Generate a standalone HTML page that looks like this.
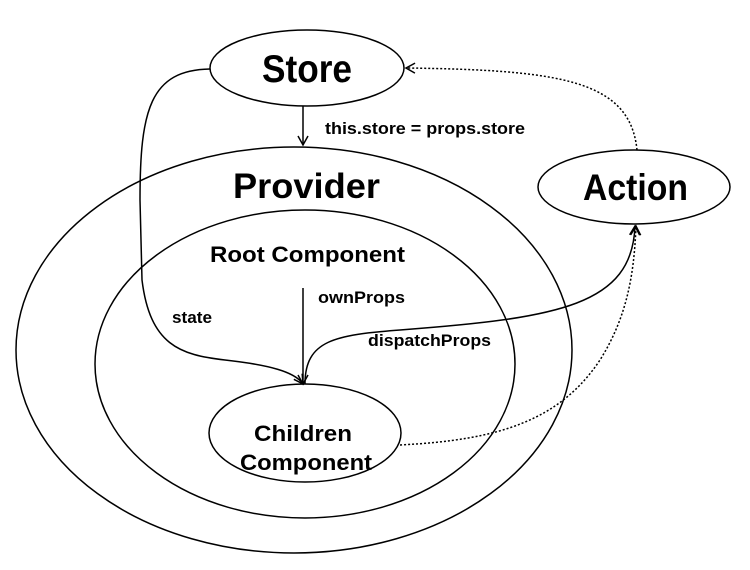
<!DOCTYPE html>
<html><head><style>
html,body{margin:0;padding:0;background:#fff;}
svg{display:block;}
text{font-family:"Liberation Sans",Arial,sans-serif;font-weight:bold;fill:#000;}
</style></head><body>
<svg width="750" height="570" viewBox="0 0 750 570">
<defs>
<marker id="a" markerWidth="12" markerHeight="12" refX="10" refY="6" orient="auto" markerUnits="userSpaceOnUse">
<path d="M1,1 L10,6 L1,11" fill="none" stroke="#000" stroke-width="1.5"/>
</marker>
</defs>
<g fill="none" stroke="#000" stroke-width="1.5">
<ellipse cx="307" cy="68" rx="97" ry="38" fill="#fff"/>
<ellipse cx="634" cy="187" rx="96" ry="37"/>
<ellipse cx="294" cy="350" rx="278" ry="203"/>
<ellipse cx="305" cy="364" rx="210" ry="154"/>
<ellipse cx="305" cy="433" rx="96" ry="49"/>
<line x1="303" y1="106" x2="303" y2="145" marker-end="url(#a)"/>
<line x1="303" y1="288" x2="303" y2="384" marker-end="url(#a)"/>
<path d="M210,69 C150,70 140,110 140,200 L142,280 C150,345 180,355 225,360 C270,365 295,372 303,384" marker-end="url(#a)"/>
<path d="M305,384 C305,340 335,335 400,330 C560,318 632,305 635,226" marker-end="url(#a)"/>
<path d="M400,445 C500,440 560,420 600,360 C625,320 634,280 636,226" stroke-dasharray="2,2" marker-end="url(#a)"/>
<path d="M637,150 C630,80 560,70 406,68" stroke-dasharray="2,2" marker-end="url(#a)"/>
</g>
<text x="262" y="82" font-size="39" textLength="90" lengthAdjust="spacingAndGlyphs">Store</text>
<text x="583" y="200" font-size="37" textLength="105" lengthAdjust="spacingAndGlyphs">Action</text>
<text x="233" y="198" font-size="35" textLength="147" lengthAdjust="spacingAndGlyphs">Provider</text>
<text x="210" y="262" font-size="22" textLength="195" lengthAdjust="spacingAndGlyphs">Root Component</text>
<text x="254" y="441" font-size="22" textLength="98" lengthAdjust="spacingAndGlyphs">Children</text>
<text x="240" y="470" font-size="22" textLength="132" lengthAdjust="spacingAndGlyphs">Component</text>
<text x="325" y="134" font-size="17" textLength="200" lengthAdjust="spacingAndGlyphs">this.store = props.store</text>
<text x="318" y="303" font-size="17" textLength="87" lengthAdjust="spacingAndGlyphs">ownProps</text>
<text x="172" y="323" font-size="17" textLength="40" lengthAdjust="spacingAndGlyphs">state</text>
<text x="368" y="346" font-size="17" textLength="123" lengthAdjust="spacingAndGlyphs">dispatchProps</text>
</svg>
</body></html>
